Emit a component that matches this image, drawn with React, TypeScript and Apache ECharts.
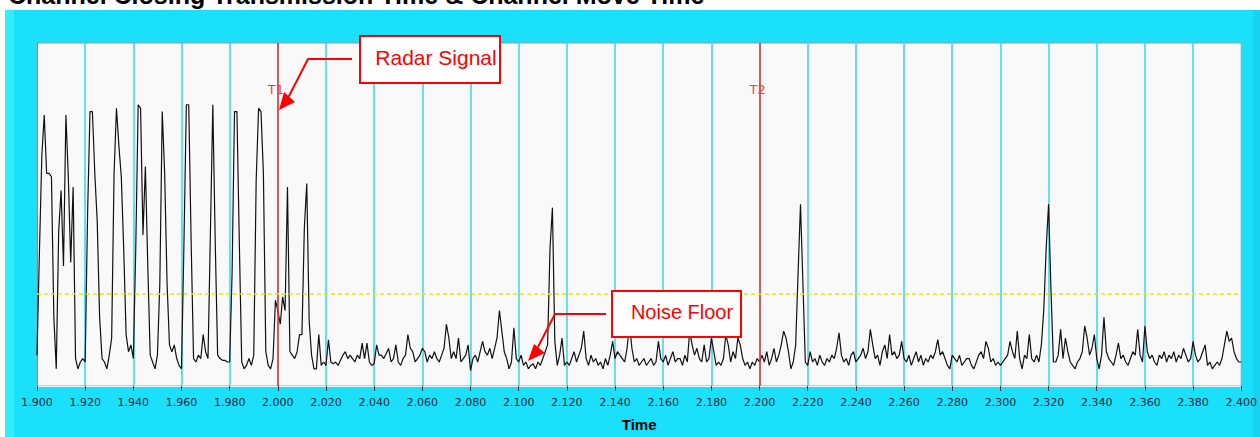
import React, { useEffect, useRef } from "react";
import * as echarts from "echarts";

const TITLE = "Channel Closing Transmission Time & Channel Move Time";
const X_NAME = "Time";
const X_MIN = 1.9;
const X_MAX = 2.4;
const X_INTERVAL = 0.02;
const T_START = 1.9;
const T_STEP = 0.001;
const THRESHOLD = 27;
const MARKERS = [
  { name: "T1", t: 2.0 },
  { name: "T2", t: 2.2 },
];
const RADAR_LABEL = "Radar Signal";
const NOISE_LABEL = "Noise Floor";

// samples every 1 ms
const SEG_1900 = [9, 39, 67, 79, 62, 62, 61, 20, 5, 45, 57, 35, 79, 61, 36, 58, 8, 5, 7, 8, 7, 50, 80, 80, 62, 48, 20, 8, 7, 5, 9, 14, 62, 81, 70, 61, 40, 15, 10, 12, 8, 40, 82, 81, 44, 64, 35, 9, 7, 5];
const SEG_1950 = [9, 30, 80, 62, 30, 12, 10, 12, 8, 6, 5, 41, 82, 82, 42, 8, 7, 9, 8, 15, 10, 8, 45, 82, 42, 9, 8, 7.5, 7.5, 7, 7, 33, 80, 80, 42, 7, 5, 6, 8, 6, 9, 60, 81, 80, 62, 10, 6, 5, 8, 25];
const SEG_2000 = [22, 18, 26, 22, 58, 10, 9, 8, 10, 15, 15, 46, 59, 19, 9, 5, 5, 15, 6, 7, 6, 13.5, 7, 6.5, 7, 6, 7.5, 9, 10, 8, 9, 8, 7, 9, 8, 12.5, 8, 12.5, 7, 6, 6.5, 12, 9, 9, 8, 9.5, 11, 7, 8, 12];
const SEG_2050 = [7, 6, 8, 9, 15, 11, 10, 7, 8, 9, 11, 10, 7, 9, 8, 10, 8, 7, 9, 11, 18, 14, 8, 10, 8, 14, 7, 8, 9, 12, 4.5, 8, 9, 7, 10, 13, 10, 9, 11, 8, 11, 14, 22, 16, 10, 8, 5, 7, 17, 8];
const SEG_2100 = [7, 9, 6, 7, 5, 6, 6.5, 5, 7, 6, 8, 10, 12, 40, 52, 13, 6, 9, 14, 6, 7, 6, 8, 10, 7, 9, 11, 16, 8, 6, 9, 7, 8, 6, 7, 5, 8, 6, 9, 13, 8, 10, 9, 8, 7, 11, 18, 11, 7, 8];
const SEG_2150 = [6, 7, 8, 6, 7, 8, 6, 7, 13, 8, 7, 9, 6, 8, 10, 7, 8, 8, 6, 9, 7, 16, 12, 9, 11, 8, 7, 12, 7, 8, 14, 10, 6, 7, 6, 8, 15, 12, 7, 10, 8, 14, 12, 8, 6, 7, 5, 7, 6, 8];
const SEG_2200 = [7, 9, 7, 10, 6, 8, 11, 7, 9, 12, 16, 14, 10, 5, 7, 12, 33, 53, 30, 7, 6, 10, 7, 8, 6, 9, 7, 6, 8, 7, 9, 8, 11, 15.5, 9, 7, 8, 6, 9, 10, 7, 8, 9, 11, 8, 10, 16.5, 12, 8, 9];
const SEG_2250 = [6, 10, 12, 8, 15, 9, 10, 8, 9, 13, 8, 7, 9, 6, 8, 10, 7, 9, 6, 8, 7, 9, 8, 10, 13.5, 9, 10, 8, 6, 5, 9, 8, 7, 9, 6, 7, 8, 8, 6, 5, 7, 9, 10, 8, 13, 11, 7, 8, 6, 7];
const SEG_2300 = [6, 7, 8, 9, 13, 10, 8, 16, 8, 5, 9, 8, 15, 8, 7, 9, 7, 12, 22, 40, 53, 28, 7, 7, 9, 16.5, 8, 14, 10, 7, 6, 5, 7, 8, 10, 17.5, 14, 9, 11, 15, 8, 5, 9, 20, 10, 8, 7, 6, 9, 12.5];
const SEG_2350 = [8, 9, 7, 6, 8, 10, 9, 16.5, 9, 7, 17.5, 10, 8, 9, 7, 6, 9, 8, 10, 7, 9, 8, 10, 7, 9, 8, 11, 9, 7, 8, 13, 9, 7, 8, 10, 12, 6, 7, 5, 6, 7, 6, 8, 12, 16, 13, 14, 10, 8, 7, 7];

export default function App() {
  const ref = useRef<HTMLDivElement>(null);

  useEffect(() => {
    if (!ref.current) return;
    const chart = echarts.init(ref.current, null, { renderer: "svg" });
    const values = [
      ...SEG_1900, ...SEG_1950, ...SEG_2000, ...SEG_2050, ...SEG_2100,
      ...SEG_2150, ...SEG_2200, ...SEG_2250, ...SEG_2300, ...SEG_2350,
    ];
    const data = values.map((v, i) => [Number((T_START + i * T_STEP).toFixed(3)), v]);

    chart.setOption({
      animation: false,
      backgroundColor: "#1ae0fc",
      grid: {
        left: 37,
        top: 43,
        width: 1205,
        height: 349,
        show: true,
        backgroundColor: "#f9f9f9",
        borderColor: "#9a9a9a",
        borderWidth: 1,
      },
      xAxis: {
        type: "value",
        min: X_MIN,
        max: X_MAX,
        interval: X_INTERVAL,
        name: X_NAME,
        nameLocation: "middle",
        nameGap: 31,
        nameTextStyle: { fontFamily: "Liberation Sans", fontWeight: "bold", fontSize: 15, color: "#000" },
        axisLine: { show: true, lineStyle: { color: "#e6f6fa", width: 1 } },
        axisTick: { show: true, length: 5, lineStyle: { color: "#333", width: 1 } },
        axisLabel: {
          margin: 11,
          fontFamily: "DejaVu Sans",
          fontSize: 11,
          color: "#14293d",
          formatter: (v: number) => v.toFixed(3),
          showMinLabel: true,
          showMaxLabel: true,
        },
        splitLine: { show: true, lineStyle: { color: "#2fd6f3", width: 1.5 } },
      },
      yAxis: {
        type: "value",
        min: 0,
        max: 100,
        show: true,
        axisLine: { show: true, lineStyle: { color: "#8a8a8a", width: 1 } },
        axisTick: { show: false },
        axisLabel: { show: false },
        splitLine: { show: false },
      },
      series: [
        {
          type: "line",
          data,
          showSymbol: false,
          symbol: "none",
          lineStyle: { color: "#111", width: 1.2 },
          z: 3,
          markLine: {
            silent: true,
            symbol: "none",
            label: { show: false },
            data: [
              ...MARKERS.map((m) => ({ xAxis: m.t, lineStyle: { color: "#ff2a2a", width: 1.5, type: "solid" } })),
              { yAxis: THRESHOLD, lineStyle: { color: "#eaea00", width: 1.5, type: [4, 3] } },
            ],
          },
        },
      ],
    });

    const markerTexts = MARKERS.map((m) => {
      const p = chart.convertToPixel({ gridIndex: 0 }, [m.t, 0]) as number[];
      return {
        type: "text",
        z: 50,
        x: p[0] - 2,
        y: 89,
        style: {
          text: m.name,
          fill: "#ff3a24",
          font: "13px 'DejaVu Sans'",
          align: "center",
          verticalAlign: "middle",
        },
      };
    });

    chart.setOption({
      graphic: [
        { type: "rect", z: 40, shape: { x: 0, y: 0, width: 1260, height: 10 }, style: { fill: "#ffffff" } },
        { type: "rect", z: 40, shape: { x: 0, y: 0, width: 5, height: 437 }, style: { fill: "#ffffff" } },
        { type: "rect", z: -1, shape: { x: 5, y: 10, width: 9, height: 427 }, style: { fill: "#33ecff" } },
        { type: "rect", z: -1, shape: { x: 1253, y: 10, width: 7, height: 427 }, style: { fill: "#17d3ee" } },
        {
          type: "text",
          z: 41,
          x: 8,
          y: -5,
          style: {
            text: TITLE,
            fill: "#000",
            font: "bold 25px 'Liberation Sans'",
            align: "left",
            verticalAlign: "middle",
          },
        },
        ...markerTexts,
        // Radar Signal callout
        {
          type: "polyline",
          z: 60,
          shape: { points: [[352, 59], [308, 59], [288, 98]] },
          style: { stroke: "#ff0000", lineWidth: 2, fill: null },
        },
        {
          type: "polygon",
          z: 60,
          shape: { points: [[279, 110], [295, 102], [284, 92]] },
          style: { fill: "#ff0000" },
        },
        {
          type: "rect",
          z: 60,
          shape: { x: 360, y: 36, width: 140, height: 47 },
          style: { fill: "#ffffff", stroke: "#ff0000", lineWidth: 2 },
        },
        {
          type: "text",
          z: 61,
          x: 436,
          y: 57,
          style: { text: RADAR_LABEL, fill: "#ff0000", font: "21px 'Liberation Sans'", align: "center", verticalAlign: "middle" },
        },
        // Noise Floor callout
        {
          type: "polyline",
          z: 60,
          shape: { points: [[606, 314], [555, 314], [538, 347]] },
          style: { stroke: "#ff0000", lineWidth: 2, fill: null },
        },
        {
          type: "polygon",
          z: 60,
          shape: { points: [[528, 361], [534, 344], [545, 353]] },
          style: { fill: "#ff0000" },
        },
        {
          type: "rect",
          z: 60,
          shape: { x: 612, y: 291, width: 129, height: 46 },
          style: { fill: "#ffffff", stroke: "#ff0000", lineWidth: 2 },
        },
        {
          type: "text",
          z: 61,
          x: 682,
          y: 312,
          style: { text: NOISE_LABEL, fill: "#ff0000", font: "20px 'Liberation Sans'", align: "center", verticalAlign: "middle" },
        },
      ],
    });

    return () => chart.dispose();
  }, []);

  return (
    <div
      ref={ref}
      style={{ position: "absolute", left: 0, top: 0, width: 1260, height: 437 }}
    />
  );
}
